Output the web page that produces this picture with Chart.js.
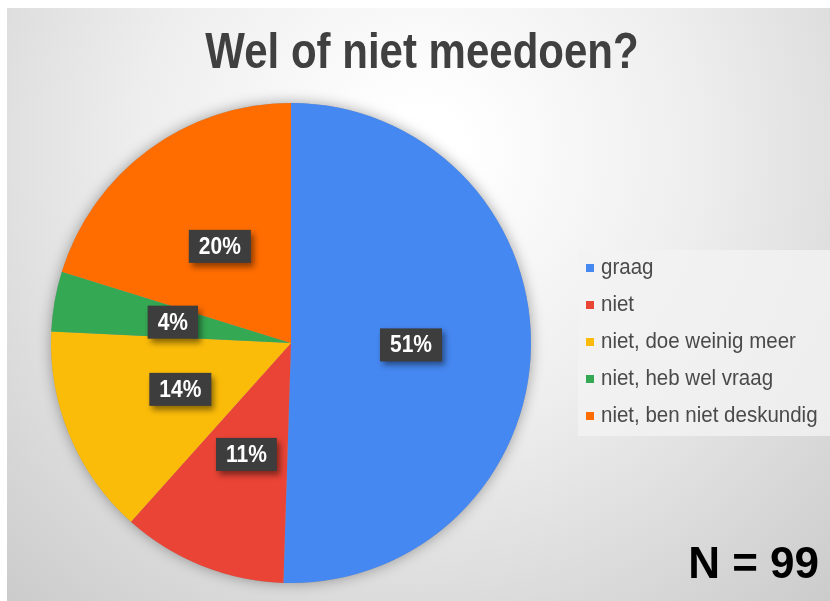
<!DOCTYPE html>
<html>
<head>
  <title>Wel of niet meedoen?</title>
  <script src="https://cdn.jsdelivr.net/npm/chart.js"></script>
  <style>
    body { margin: 0; background: #fff; }
    .wrap { width: 830px; height: 601px; position: relative; }
  </style>
</head>
<body>
  <div class="wrap">
    <canvas id="pieChart" width="830" height="601"></canvas>
  </div>

  <script>
    const categories = ['graag', 'niet', 'niet, doe weinig meer', 'niet, heb wel vraag', 'niet, ben niet deskundig'];
    const counts = [50, 11, 14, 4, 20];   // N = 99
    const colors = ['#4688f1', '#ea4436', '#fbbc09', '#34a853', '#ff6d01'];
    const titleText = 'Wel of niet meedoen?';
    const noteText = 'N = 99';

    const total = counts.reduce((a, b) => a + b, 0);

    // text slightly stretched in height, like the screenshot
    function tallText(ctx, txt, x, y, sy) {
      ctx.save();
      ctx.translate(x, y);
      ctx.scale(1, sy);
      ctx.fillText(txt, 0, 0);
      ctx.restore();
    }

    // background, title, pie shadow, labels, legend and N
    const decor = {
      id: 'decor',
      beforeDraw(chart) {
        const ctx = chart.ctx;
        ctx.save();
        ctx.fillStyle = '#ffffff';
        ctx.fillRect(0, 0, 830, 601);
        const g = ctx.createRadialGradient(420, 150, 40, 420, 150, 720);
        g.addColorStop(0, '#ffffff');
        g.addColorStop(0.35, '#eeeeee');
        g.addColorStop(1, '#c0c0c0');
        ctx.fillStyle = g;
        ctx.fillRect(7, 8, 823, 593);

        ctx.fillStyle = '#404040';
        ctx.font = 'bold 42px "Liberation Sans", Arial, sans-serif';
        ctx.textAlign = 'center';
        ctx.textBaseline = 'alphabetic';
        tallText(ctx, titleText, 422, 68, 1.17);
        ctx.restore();
      },
      beforeDatasetsDraw(chart) {
        const arc = chart.getDatasetMeta(0).data[0];
        const ctx = chart.ctx;
        ctx.save();
        ctx.shadowColor = 'rgba(0,0,0,0.35)';
        ctx.shadowBlur = 14;
        ctx.fillStyle = '#999';
        ctx.beginPath();
        ctx.arc(arc.x, arc.y, arc.outerRadius, 0, Math.PI * 2);
        ctx.fill();
        ctx.restore();
      },
      afterDatasetsDraw(chart) {
        const ctx = chart.ctx;
        const meta = chart.getDatasetMeta(0);
        ctx.save();
        ctx.font = 'bold 21px "Liberation Sans", Arial, sans-serif';
        ctx.textAlign = 'center';
        ctx.textBaseline = 'middle';
        meta.data.forEach((arc, i) => {
          const p = arc.getCenterPoint();
          const txt = Math.round(counts[i] / total * 100) + '%';
          const w = ctx.measureText(txt).width + 20;
          const h = 33;
          ctx.save();
          ctx.shadowColor = 'rgba(0,0,0,0.45)';
          ctx.shadowBlur = 6;
          ctx.shadowOffsetX = 3;
          ctx.shadowOffsetY = 4;
          ctx.fillStyle = '#3d3d3d';
          ctx.fillRect(p.x - w / 2, p.y - h / 2, w, h);
          ctx.restore();
          ctx.fillStyle = '#ffffff';
          tallText(ctx, txt, p.x, p.y + 1, 1.1);
        });
        ctx.restore();
      },
      afterDraw(chart) {
        const ctx = chart.ctx;
        ctx.save();
        // legend box
        ctx.fillStyle = 'rgba(242,242,242,0.8)';
        ctx.fillRect(578, 250, 252, 186);
        ctx.font = '20.5px "Liberation Sans", Arial, sans-serif';
        ctx.textBaseline = 'middle';
        ctx.textAlign = 'left';
        categories.forEach((c, i) => {
          const y = 268 + i * 37;
          ctx.fillStyle = colors[i];
          ctx.fillRect(586, y - 4, 8, 8);
          ctx.fillStyle = '#4a4a4a';
          tallText(ctx, c, 601, y, 1.12);
        });
        // N
        ctx.fillStyle = '#000';
        ctx.font = 'bold 44px "Liberation Sans", Arial, sans-serif';
        ctx.textAlign = 'right';
        ctx.textBaseline = 'alphabetic';
        ctx.fillText(noteText, 819, 578);
        ctx.restore();
      }
    };

    new Chart(document.getElementById('pieChart').getContext('2d'), {
      type: 'pie',
      data: {
        labels: categories,
        datasets: [{
          data: counts,
          backgroundColor: colors,
          borderWidth: 0
        }]
      },
      options: {
        responsive: false,
        animation: false,
        layout: { padding: { left: 51, right: 299, top: 103, bottom: 18 } },
        plugins: {
          legend: { display: false },
          tooltip: { enabled: false }
        }
      },
      plugins: [decor]
    });
  </script>
</body>
</html>
